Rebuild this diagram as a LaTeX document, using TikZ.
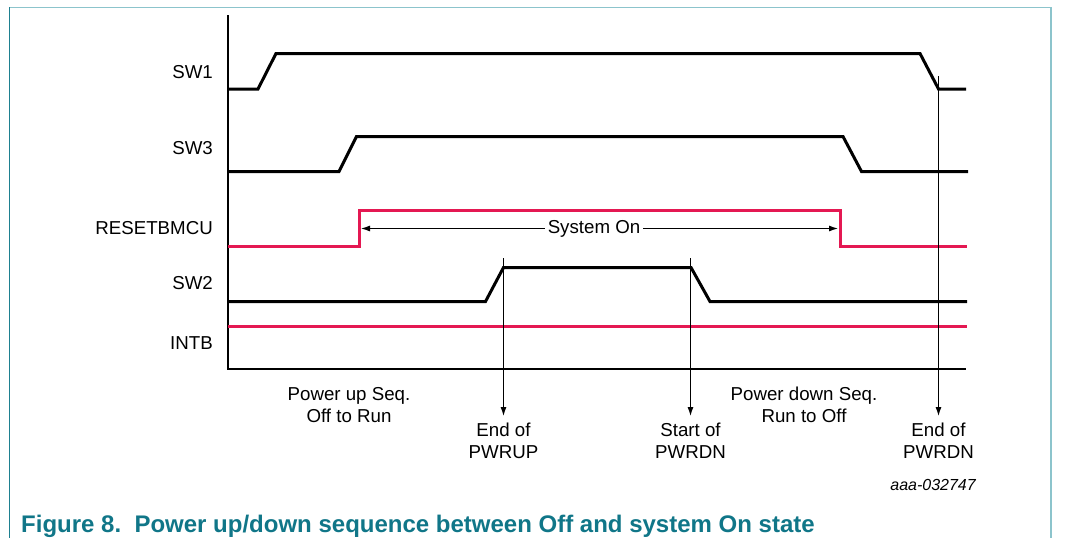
\documentclass[tikz,border=0pt]{standalone}
\usepackage{fontspec}
\setmainfont{Liberation Sans}
\usetikzlibrary{arrows.meta}
\definecolor{sigred}{RGB}{228,24,82}
\definecolor{frameA}{RGB}{140,196,204}
\definecolor{frameB}{RGB}{30,128,144}
\definecolor{captc}{RGB}{16,118,136}
\tikzset{
  sig/.style={line width=3pt, line join=miter},
  redsig/.style={sig, draw=sigred},
  lbl/.style={font=\fontsize{18.7}{21.8}\selectfont, inner sep=0pt},
  marker/.style={line width=1pt, -{Latex[length=9pt,width=6pt]}},
  axisline/.style={line width=2pt},
}
\begin{document}
\begin{tikzpicture}[x=1pt,y=-1pt]
\useasboundingbox (0,0) rectangle (1066,538);
% frame
\draw[frameA, line width=1.5pt] (9,7.5) -- (1051,7.5) -- (1051,538);
\draw[frameB, line width=1.5pt] (9.5,7) -- (9.5,538);
% axes
\draw[axisline] (228,15) -- (228,369) -- (966,369);
% signals
\draw[sig] (228,89) -- (258,89) -- (276,53.5) -- (920,53.5) -- (938.5,89) -- (966,89);
\draw[sig] (228,171.5) -- (339,171.5) -- (356.5,136.5) -- (843,136.5) -- (861.5,171.5) -- (968,171.5);
\draw[redsig] (228,246) -- (359,246) -- (359,210) -- (840,210) -- (840,246) -- (967,246);
\draw[sig] (228,301.5) -- (485.5,301.5) -- (503.5,267.5) -- (691,267.5) -- (710,301.5) -- (967,301.5);
\draw[redsig] (228,326) -- (967,326);
% labels
\node[lbl, anchor=east] (l1) at (213,72.5) {SW1};
\node[lbl, anchor=east] (l3) at (213,148) {SW3};
\node[lbl, anchor=east] (lr) at (213,228.5) {RESETBMCU};
\node[lbl, anchor=east] (l2) at (213,283.5) {SW2};
\node[lbl, anchor=east] (li) at (213,343.5) {INTB};
% system on
\coordinate (sonL) at (361,228.5);
\coordinate (sonR) at (838,228.5);
\node[lbl, fill=white, inner xsep=3pt] (son) at (594,228.5) {System On};
\draw[marker] (son.west) -- (sonL);
\draw[marker] (son.east) -- (sonR);
% markers
\coordinate (t1) at (503.5,258);
\coordinate (t2) at (690.5,258);
\coordinate (t3) at (938.5,76);
\coordinate (b1) at (503.5,416);
\coordinate (b2) at (690.5,416);
\coordinate (b3) at (938.5,416);
\draw[marker] (t1) -- (b1);
\draw[marker] (t2) -- (b2);
\draw[marker] (t3) -- (b3);
% bottom texts
\node[lbl, align=center, anchor=north] (pu) at (349,387) {Power up Seq.\\Off to Run};
\node[lbl, align=center, anchor=north] (pd) at (804,387) {Power down Seq.\\Run to Off};
\node[lbl, align=center, anchor=north] (e1) at (503.5,423) {End of\\PWRUP};
\node[lbl, align=center, anchor=north] (s2) at (690.5,423) {Start of\\PWRDN};
\node[lbl, align=center, anchor=north] (e3) at (938.5,423) {End of\\PWRDN};
% id
\node[font=\fontsize{16}{18}\selectfont\itshape, inner sep=0pt, anchor=base east] (id) at (976,490) {aaa-032747};
% caption
\node[font=\fontsize{24}{26}\selectfont\bfseries, text=captc, inner sep=0pt, anchor=base west] (cap) at (21,532) {Figure 8.\ \ Power up/down sequence between Off and system On state};
\end{tikzpicture}
\end{document}
